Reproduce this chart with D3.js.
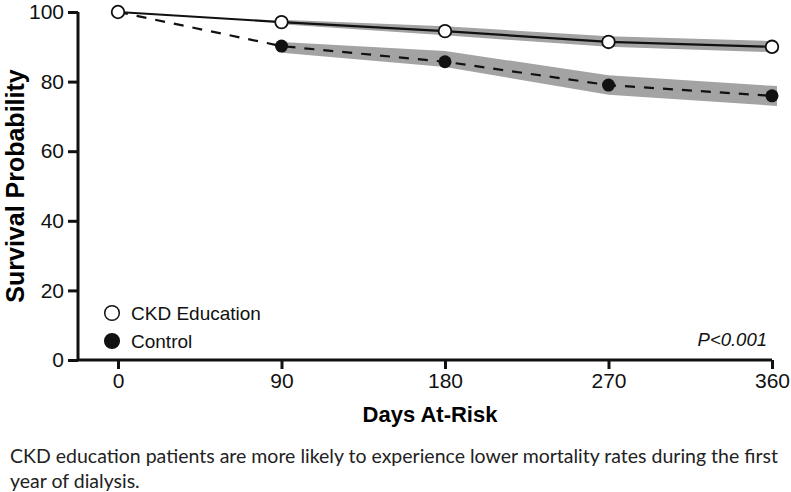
<!DOCTYPE html>
<html>
<head>
<meta charset="utf-8">
<script src="https://cdn.jsdelivr.net/npm/d3@7"></script>
<style>
  body { margin: 0; background: #fff; }
  svg { display: block; }
  .caption { font-family: Lato, sans-serif; font-size: 19.5px; fill: #222; }
</style>
</head>
<body>
<svg id="chart" width="791" height="492"></svg>
<script>
// days at risk
const days = [0, 90, 180, 270, 360]
const xTicks = [0, 90, 180, 270, 360]
const yTicks = [0, 20, 40, 60, 80, 100]

// survival probability per group
const ckdSurvival = [100, 97.1, 94.5, 91.4, 90.0]
const controlSurvival = [100, 90.2, 85.7, 79.0, 75.9]

// confidence bands (from day 90 on)
const bandDays = [90, 180, 270, 360]
const ckdLower = [96.5, 93.3, 90.0, 88.4]
const ckdUpper = [97.8, 95.9, 93.0, 91.6]
const controlLower = [88.3, 84.2, 76.2, 73.0]
const controlUpper = [91.4, 88.8, 81.8, 78.7]

const svg = d3.select("#chart")
const font = "'Liberation Sans', Arial, sans-serif"

const x = d3.scaleLinear().domain([0, 360]).range([118, 772])
const y = d3.scaleLinear().domain([0, 100]).range([360, 12])

/* bands */
const band = (lo, hi) => d3.area()
  .x((d, i) => x(bandDays[i]) + (i === bandDays.length - 1 ? 5 : 0))
  .y0((d, i) => y(lo[i]))
  .y1((d, i) => y(hi[i]))(bandDays)

svg.append("path").attr("d", band(ckdLower, ckdUpper)).attr("fill", "#a3a3a3")
svg.append("path").attr("d", band(controlLower, controlUpper)).attr("fill", "#a3a3a3")

/* lines */
const line = vals => d3.line().x((d, i) => x(days[i])).y((d, i) => y(vals[i]))(days)

svg.append("path").attr("d", line(controlSurvival))
  .attr("fill", "none").attr("stroke", "#111").attr("stroke-width", 2.2)
  .attr("stroke-dasharray", "10,9")
svg.append("path").attr("d", line(ckdSurvival))
  .attr("fill", "none").attr("stroke", "#111").attr("stroke-width", 2.2)

/* markers */
svg.selectAll(".ctl").data(days.slice(1)).enter().append("circle")
  .attr("cx", d => x(d)).attr("cy", (d, i) => y(controlSurvival[i + 1]))
  .attr("r", 6.5).attr("fill", "#111")
svg.selectAll(".ckd").data(days).enter().append("circle")
  .attr("cx", d => x(d)).attr("cy", (d, i) => y(ckdSurvival[i]))
  .attr("r", 6.3).attr("fill", "#fff").attr("stroke", "#111").attr("stroke-width", 1.8)

/* axes */
const yAxis = svg.append("g").attr("transform", "translate(78,0)")
  .call(d3.axisLeft(y).tickValues(yTicks).tickSize(10).tickPadding(4))
const xAxis = svg.append("g").attr("transform", "translate(0,360)")
  .call(d3.axisBottom(x).tickValues(xTicks).tickSize(9).tickPadding(4))

xAxis.select(".domain").attr("d", "M78,0H" + x(360))
yAxis.select(".domain").attr("d", "M0," + y(100) + "V" + y(0))

for (const g of [xAxis, yAxis]) {
  g.selectAll(".domain, line").attr("stroke", "#111").attr("stroke-width", 3)
  g.selectAll("text").attr("font-family", font).attr("font-size", 21).attr("fill", "#111")
}

/* axis titles */
svg.append("text")
  .attr("transform", "translate(24,186) rotate(-90)")
  .attr("text-anchor", "middle")
  .attr("font-family", font).attr("font-weight", "bold").attr("font-size", 25)
  .text("Survival Probability")

svg.append("text")
  .attr("x", 430).attr("y", 422)
  .attr("text-anchor", "middle")
  .attr("font-family", font).attr("font-weight", "bold").attr("font-size", 22)
  .text("Days At-Risk")

/* legend */
const legend = [
  { label: "CKD Education", fill: "#fff" },
  { label: "Control", fill: "#111" }
]
legend.forEach((d, i) => {
  const ly = 313 + i * 28
  svg.append("circle").attr("cx", 112).attr("cy", ly).attr("r", 7.3)
    .attr("fill", d.fill).attr("stroke", "#111").attr("stroke-width", 1.5)
  svg.append("text").attr("x", 131).attr("y", ly + 6.5)
    .attr("font-family", font).attr("font-size", 19).attr("fill", "#111")
    .text(d.label)
})

svg.append("text")
  .attr("x", 767).attr("y", 346).attr("text-anchor", "end")
  .attr("font-family", font).attr("font-style", "italic").attr("font-size", 18.5)
  .attr("fill", "#111")
  .text("P<0.001")

/* caption */
const caption = [
  "CKD education patients are more likely to experience lower mortality rates during the first",
  "year of dialysis."
]
caption.forEach((t, i) => {
  svg.append("text").attr("class", "caption")
    .attr("x", 10).attr("y", 463 + i * 25).text(t)
})
</script>
</body>
</html>
